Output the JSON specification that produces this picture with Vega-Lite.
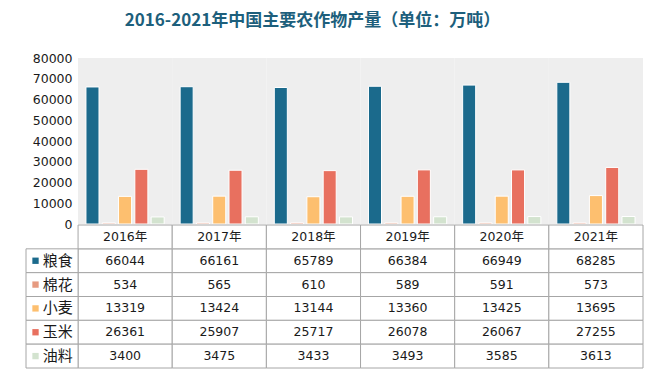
{
  "$schema": "https://vega.github.io/schema/vega-lite/v6.json",
  "background": "white",
  "padding": {"left": 25, "top": 12, "right": 21, "bottom": 22},
  "title": {"text": "2016-2021年中国主要农作物产量（单位：万吨）", "font": "Noto Sans CJK SC", "fontSize": 17, "fontWeight": "bold", "color": "#1d5f7c", "anchor": "middle", "dx": -22, "offset": 22},
  "config": {"view": {"stroke": null}, "font": "DejaVu Sans", "axis": {"labelOverlap": false}},
  "spacing": 1,
  "bounds": "flush",
  "resolve": {"scale": {"x": "independent", "y": "independent"}},
  "datasets": {
    "vals": [
      {"year": "2016年", "crop": "粮食", "value": 66044},
      {"year": "2017年", "crop": "粮食", "value": 66161},
      {"year": "2018年", "crop": "粮食", "value": 65789},
      {"year": "2019年", "crop": "粮食", "value": 66384},
      {"year": "2020年", "crop": "粮食", "value": 66949},
      {"year": "2021年", "crop": "粮食", "value": 68285},
      {"year": "2016年", "crop": "棉花", "value": 534},
      {"year": "2017年", "crop": "棉花", "value": 565},
      {"year": "2018年", "crop": "棉花", "value": 610},
      {"year": "2019年", "crop": "棉花", "value": 589},
      {"year": "2020年", "crop": "棉花", "value": 591},
      {"year": "2021年", "crop": "棉花", "value": 573},
      {"year": "2016年", "crop": "小麦", "value": 13319},
      {"year": "2017年", "crop": "小麦", "value": 13424},
      {"year": "2018年", "crop": "小麦", "value": 13144},
      {"year": "2019年", "crop": "小麦", "value": 13360},
      {"year": "2020年", "crop": "小麦", "value": 13425},
      {"year": "2021年", "crop": "小麦", "value": 13695},
      {"year": "2016年", "crop": "玉米", "value": 26361},
      {"year": "2017年", "crop": "玉米", "value": 25907},
      {"year": "2018年", "crop": "玉米", "value": 25717},
      {"year": "2019年", "crop": "玉米", "value": 26078},
      {"year": "2020年", "crop": "玉米", "value": 26067},
      {"year": "2021年", "crop": "玉米", "value": 27255},
      {"year": "2016年", "crop": "油料", "value": 3400},
      {"year": "2017年", "crop": "油料", "value": 3475},
      {"year": "2018年", "crop": "油料", "value": 3433},
      {"year": "2019年", "crop": "油料", "value": 3493},
      {"year": "2020年", "crop": "油料", "value": 3585},
      {"year": "2021年", "crop": "油料", "value": 3613}
    ]
  },
  "vconcat": [
    {
      "width": 617,
      "height": 166,
      "data": {"name": "vals"},
      "layer": [
        {
          "transform": [{"filter": "datum.crop === '粮食'"}],
          "mark": {"type": "rect", "fill": "#eeeeee"},
          "encoding": {
            "x": {"field": "year", "type": "nominal", "sort": null, "axis": null,
                  "scale": {"paddingInner": 0, "paddingOuter": 0.276, "align": 1}},
            "y": {"datum": 80000, "type": "quantitative",
                  "scale": {"domain": [0, 80000], "nice": false},
                  "axis": {"values": [0, 10000, 20000, 30000, 40000, 50000, 60000, 70000, 80000],
                           "format": "d", "labelOverlap": false,
                           "offset": -52, "domain": false, "ticks": false, "grid": false, "title": null,
                           "labelFontSize": 12.5, "labelColor": "#1a1a1a", "labelPadding": 6, "labelFont": "DejaVu Sans"}},
            "y2": {"datum": 0}
          }
        },
        {
          "mark": {"type": "bar", "stroke": "white", "strokeWidth": 1},
          "encoding": {
            "x": {"field": "year", "type": "nominal", "sort": null, "axis": null,
                  "scale": {"paddingInner": 0, "paddingOuter": 0.276, "align": 1}},
            "xOffset": {"field": "crop", "type": "nominal",
                        "scale": {"domain": ["粮食", "棉花", "小麦", "玉米", "油料"], "paddingInner": 0.2, "paddingOuter": 0.49}},
            "y": {"field": "value", "type": "quantitative",
                  "scale": {"domain": [0, 80000], "nice": false},
                  "axis": {"values": [0, 10000, 20000, 30000, 40000, 50000, 60000, 70000, 80000],
                           "format": "d", "labelOverlap": false,
                           "offset": -52, "domain": false, "ticks": false, "grid": false, "title": null,
                           "labelFontSize": 12.5, "labelColor": "#1a1a1a", "labelPadding": 6, "labelFont": "DejaVu Sans"}},
            "color": {"field": "crop", "type": "nominal",
                      "scale": {"domain": ["粮食", "棉花", "小麦", "玉米", "油料"],
                                "range": ["#1b6a8c", "#e69a80", "#fdbf6f", "#e8705f", "#d3e3cf"]},
                      "legend": null}
          }
        }
      ]
    },
    {
      "width": 617,
      "height": 143,
      "data": {"name": "vals"},
      "transform": [
        {"calculate": "toNumber(slice(datum.year, 0, 4)) - 2016", "as": "col"},
        {"calculate": "datum.col + 1", "as": "col2"},
        {"calculate": "datum.col + 0.5", "as": "colm"}
      ],
      "layer": [
        {
          "mark": {"type": "rect", "fill": "white", "stroke": "#a6a6a6", "strokeWidth": 1},
          "encoding": {
            "x": {"field": "col", "type": "quantitative", "axis": null,
                  "scale": {"domain": [-0.553, 6], "nice": false, "zero": false}},
            "x2": {"field": "col2"},
            "y": {"field": "crop", "type": "nominal", "axis": null,
                  "scale": {"domain": ["header", "粮食", "棉花", "小麦", "玉米", "油料"], "paddingInner": 0, "paddingOuter": 0}}
          }
        },
        {
          "mark": {"type": "text", "fontSize": 12.5, "font": "DejaVu Sans", "color": "#1a1a1a", "baseline": "middle"},
          "encoding": {
            "x": {"field": "colm", "type": "quantitative"},
            "y": {"field": "crop", "type": "nominal"},
            "text": {"field": "value", "type": "quantitative", "format": "d"}
          }
        },
        {
          "transform": [{"filter": "datum.crop === '粮食'"}],
          "mark": {"type": "rect", "fill": "white", "stroke": "#a6a6a6", "strokeWidth": 1},
          "encoding": {
            "x": {"field": "col", "type": "quantitative"},
            "x2": {"field": "col2"},
            "y": {"datum": "header", "type": "nominal"}
          }
        },
        {
          "transform": [{"filter": "datum.crop === '粮食'"}],
          "mark": {"type": "text", "fontSize": 12.5, "font": "DejaVu Sans, Noto Sans CJK SC", "color": "#1a1a1a", "baseline": "middle"},
          "encoding": {
            "x": {"field": "colm", "type": "quantitative"},
            "y": {"datum": "header", "type": "nominal"},
            "text": {"field": "year", "type": "nominal"}
          }
        },
        {
          "transform": [{"filter": "datum.year === '2016年'"}],
          "mark": {"type": "rect", "fill": "white", "stroke": "#a6a6a6", "strokeWidth": 1},
          "encoding": {
            "x": {"datum": -0.553, "type": "quantitative"},
            "x2": {"datum": 0},
            "y": {"field": "crop", "type": "nominal"}
          }
        },
        {
          "transform": [{"filter": "datum.year === '2016年'"}],
          "mark": {"type": "square", "size": 40, "opacity": 1, "filled": true},
          "encoding": {
            "x": {"datum": -0.452, "type": "quantitative"},
            "y": {"field": "crop", "type": "nominal"},
            "color": {"field": "crop", "type": "nominal", "legend": null}
          }
        },
        {
          "transform": [{"filter": "datum.year === '2016年'"}],
          "mark": {"type": "text", "fontSize": 15, "font": "Noto Sans CJK SC", "color": "#1a1a1a", "baseline": "middle", "align": "left"},
          "encoding": {
            "x": {"datum": -0.376, "type": "quantitative"},
            "y": {"field": "crop", "type": "nominal"},
            "text": {"field": "crop", "type": "nominal"}
          }
        }
      ]
    }
  ]
}
